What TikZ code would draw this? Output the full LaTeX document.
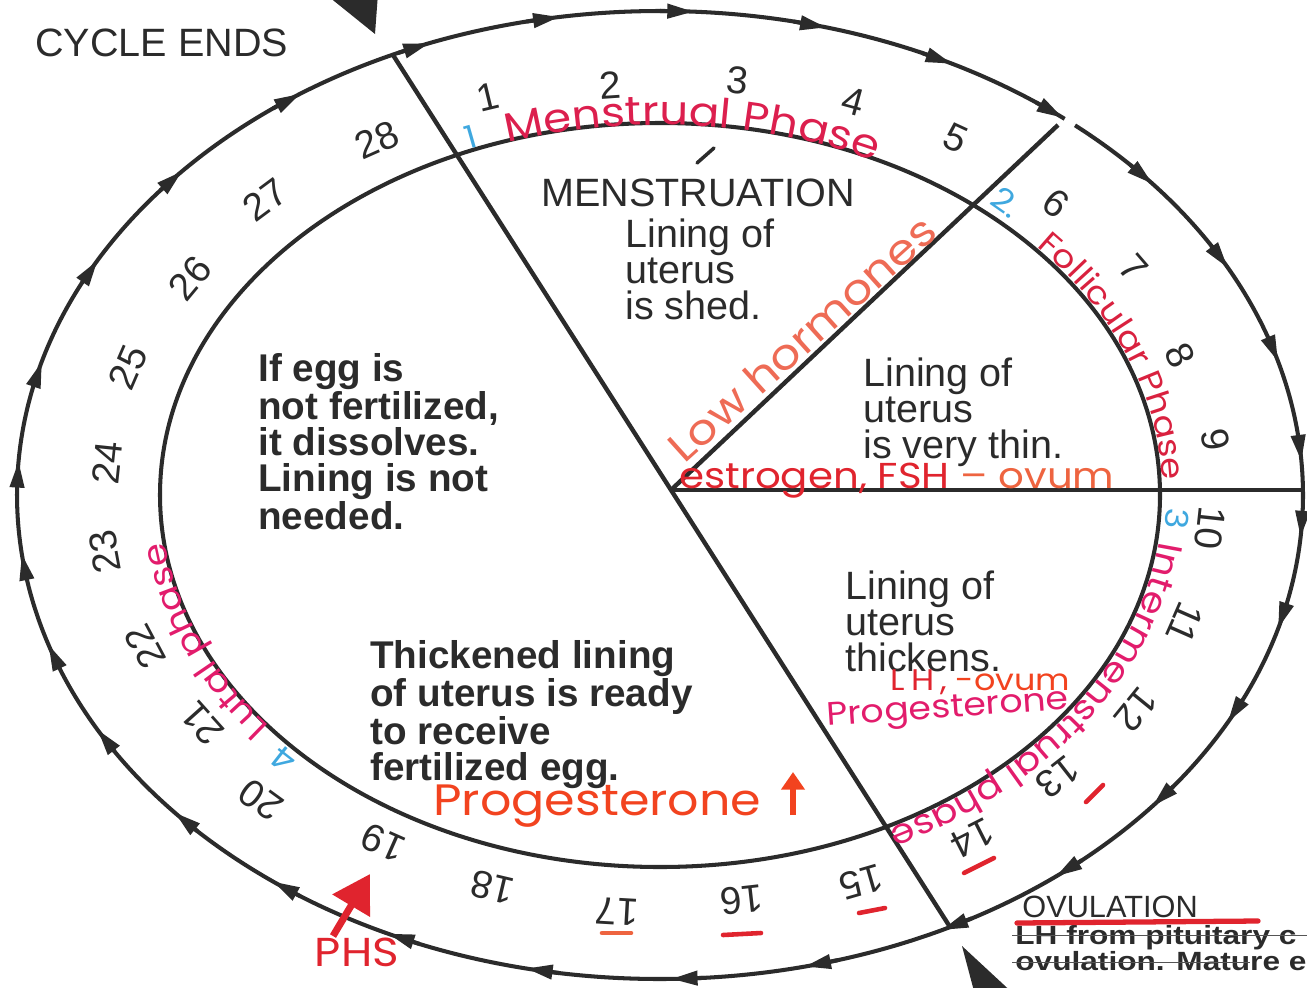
\documentclass[tikz,border=0pt]{standalone}
\usepackage{fontspec}
\setmainfont{Liberation Sans}
\newfontfamily\handfont{Poppins}[FakeStretch=1.12]
\newfontfamily\widesans{Liberation Sans}[FakeStretch=1.2]
\usetikzlibrary{arrows.meta, calc, decorations.text, positioning}

\definecolor{ink}{HTML}{2B2B2B}
\definecolor{crimson}{HTML}{DC1F4E}
\definecolor{follred}{HTML}{D9213F}
\definecolor{pinkmag}{HTML}{E21C6C}
\definecolor{markred}{HTML}{E0242E}
\definecolor{salmon}{HTML}{EE6B55}
\definecolor{orangered}{HTML}{F2431F}
\definecolor{ovumorange}{HTML}{EE6440}
\definecolor{skyblue}{HTML}{3FA8DF}

\tikzset{
    ring/.style={draw=ink, line width=2.3pt},
    spoke/.style={draw=ink, line width=2.5pt},
    cyclearrow/.style={draw=ink, line width=2.3pt, -{Triangle[length=15pt, width=8pt]}},
    pointer/.style={fill=ink, draw=none},
    daynum/.style={font=\fontsize{22}{22}\selectfont, text=ink, inner sep=0pt},
    infotext/.style={font=\fontsize{22.5}{20.5}\selectfont, text=ink, align=left, inner sep=0pt},
    infobold/.style={font=\fontsize{22}{20.5}\selectfont\bfseries, text=ink, align=left, inner sep=0pt},
    phasemark/.style={font=\handfont\fontsize{18}{18}\selectfont, text=skyblue, inner sep=0pt},
    handnote/.style={font=\handfont\fontsize{21}{21}\selectfont, inner sep=0pt},
    underdash/.style={line width=2.6pt, line cap=round}
}

\begin{document}
\begin{tikzpicture}[x=0.02cm, y=-0.02cm, line join=round]

        \useasboundingbox (0,0) rectangle (1307,987);
        \clip (0,0) rectangle (1307,987);

        \coordinate (ringc) at (660,495);
        \coordinate (hub) at (671,490);
        \coordinate (spokeA) at (393,55);
        \coordinate (spokeB) at (950,927);
        \coordinate (spokeC) at (1303,490);
        \coordinate (spokeD) at (1058,125);

        % -----------------------------------------------------------------
        % OUTER RING WITH ARROWS
        % -----------------------------------------------------------------
        \draw[ring] (ringc) ++(-49.8:643 and 484) arc[start angle=-49.8, end angle=309, x radius=643, y radius=484];
        \foreach \s in {4,16,28,40,51.2,63,75,87,99,111,124,138,151,164,176,187,198,209,221,233,245,258,271,283,296,308,320,332,344,355} {
            \draw[cyclearrow] ($(ringc)+(-\s-3:643 and 484)$) -- ($(ringc)+(-\s:643 and 484)$);
        }

        % pointers at the edge of the page
        \fill[pointer] (375,34) -- (308,-20) -- (379,-20) -- cycle;
        \fill[pointer] (962,946) -- (979,1010) -- (1031,1010) -- cycle;

        % -----------------------------------------------------------------
        % INNER RING AND SPOKES
        % -----------------------------------------------------------------
        \draw[ring] (ringc) ellipse [x radius=500, y radius=372];
        \draw[spoke] (spokeA) -- (hub) -- (spokeB);
        \draw[spoke] (hub) -- (spokeC);
        \draw[spoke] (hub) -- (spokeD);
        \draw[ink, line width=2pt, line cap=round] (697,163) -- (714,148);

        % -----------------------------------------------------------------
        % DAYS
        % -----------------------------------------------------------------
        \foreach \d/\x/\y in {1/488/97, 2/610/85, 3/738/80, 4/853/102, 5/956/138, 6/1056/203, 7/1134/268,
                              8/1180/355, 9/1215/440, 10/1210/528, 11/1185/623, 12/1136/710, 13/1058/777, 14/972/838,
                              15/861/882, 16/742/900, 17/617/912, 18/492/887, 19/383/843, 20/261/800, 21/202/723,
                              22/145/647, 23/105/552, 24/107/463, 25/128/367, 26/190/278, 27/265/200, 28/377/140} {
            \pgfmathsetmacro\rot{atan2((495-\y)*1.8, \x-660)-90}
            \node[daynum, rotate=\rot] (day\d) at (\x,\y) {\d};
        }

        % -----------------------------------------------------------------
        % PRINTED TEXT
        % -----------------------------------------------------------------
        \node[infotext, anchor=north west] (cycleends) at (35,29) {CYCLE ENDS};
        \node[infotext, anchor=north west] (menstitle) at (541,179) {MENSTRUATION};
        \node[infotext, anchor=north west] (shed) at (625,218) {Lining of\\uterus\\is shed.};
        \node[infotext, anchor=north west] (thin) at (863,357) {Lining of\\uterus\\is very thin.};
        \node[infotext, anchor=north west] (thick) at (845,570) {Lining of\\uterus\\thickens.};
        \node[infobold, anchor=north west] (dissolve) at (258,353) {If egg is\\not fertilized,\\it dissolves.\\Lining is not\\needed.};
        \node[infobold, anchor=north west] (ready) at (370,640) {Thickened lining\\of uterus is ready\\to receive\\fertilized egg.};

        \node[font=\fontsize{17.5}{17.5}\selectfont, text=ink, inner sep=0pt, anchor=north west] (ovul) at (1022,896) {OVULATION};
        \node[font=\widesans\fontsize{15}{15}\selectfont\bfseries, text=ink, inner sep=0pt, anchor=base west] (ovlineA) at (1015,944) {LH from pituitary c};
        \node[font=\widesans\fontsize{15}{15}\selectfont\bfseries, text=ink, inner sep=0pt, anchor=base west] (ovlineB) at (1015,970) {ovulation. Mature e};
        \draw[ink!80, line width=0.5pt] (1012,935) -- (1307,935);
        \draw[ink!80, line width=0.5pt] (1012,962) -- (1250,962);

        % -----------------------------------------------------------------
        % HAND NOTES: PHASES
        % -----------------------------------------------------------------
        \path[decorate, decoration={text along path, text align=center,
            text={|\handfont\fontsize{23}{23}\selectfont\color{crimson}|Menstrual Phase}}]
            (ringc) ++(-118:500 and 370) arc[start angle=-118, end angle=-54, x radius=500, y radius=370];
        \path[decorate, decoration={text along path, text align=center,
            text={|\handfont\fontsize{18}{18}\selectfont\color{follred}|Follicular Phase}}]
            (ringc) ++(-51:503 and 375) arc[start angle=-51, end angle=9, x radius=503, y radius=375];
        \path[decorate, decoration={text along path, text align=center,
            text={|\handfont\fontsize{19.5}{19.5}\selectfont\color{pinkmag}|Intermenstrual phase}}]
            (ringc) ++(-2:503 and 375) arc[start angle=-2, end angle=70, x radius=503, y radius=375];
        \path[decorate, decoration={text along path, text align=center,
            text={|\handfont\fontsize{19}{19}\selectfont\color{pinkmag}|Lutal phase}}]
            (ringc) ++(122:499 and 371) arc[start angle=122, end angle=196, x radius=499, y radius=371];

        \node[phasemark, rotate=16] (phA) at (471,137) {1};
        \node[phasemark, rotate=-35] (phB) at (1006,202) {2.};
        \node[phasemark, rotate=-95] (phC) at (1177,519) {3};
        \node[phasemark, rotate=142] (phD) at (284,760) {4};

        % -----------------------------------------------------------------
        % HAND NOTES: HORMONES
        % -----------------------------------------------------------------
        \node[handnote, font=\handfont\fontsize{24}{24}\selectfont, text=salmon, rotate=42, anchor=base] (lowhorm) at (812,350) {Low hormones};
        \node[handnote, font=\handfont\fontsize{20.5}{20.5}\selectfont, anchor=base west] (estro) at (679,488) {\textcolor{markred}{estrogen, FSH} \textcolor{ovumorange}{– ovum}};
        \node[handnote, font=\handfont\fontsize{17}{17}\selectfont, anchor=base west] (lhnote) at (890,690) {\textcolor{markred}{L\hspace{4pt}H\hspace{3pt},} \textcolor{orangered}{-ovum}};
        \node[handnote, font=\handfont\fontsize{18.5}{18.5}\selectfont, text=pinkmag, rotate=4, anchor=base west] (progsmall) at (827,726) {Progesterone};
        \node[handnote, font=\handfont\fontsize{25}{25}\selectfont, text=orangered, anchor=base west] (progbig) at (433,815) {Progesterone};
        \coordinate (uptail) at (793,815);
        \coordinate (uptip) at (793,772);
        \draw[orangered, line width=3pt, -{Triangle[length=10pt, width=13pt]}] (uptail) -- (uptip);

        % -----------------------------------------------------------------
        % PHS AND MARKS
        % -----------------------------------------------------------------
        \node[handnote, font=\handfont\fontsize{23}{23}\selectfont, text=markred, anchor=base] (phs) at (357,966) {PHS};
        \coordinate (phstail) at (333,936);
        \coordinate (phstip) at (370,874);
        \draw[markred, line width=4pt, -{Triangle[length=21pt, width=24pt]}] (phstail) -- (phstip);

        \draw[underdash, markred] (1086,802) -- (1103,785);
        \draw[underdash, markred] (964,873) -- (994,858);
        \draw[underdash, markred] (859,913) -- (885,908);
        \draw[underdash, markred] (723,935) -- (761,933);
        \draw[underdash, ovumorange] (602,933) -- (631,933);
        \draw[underdash, markred, line width=3pt] (1017,923) -- (1258,921);

    \end{tikzpicture}
\end{document}
